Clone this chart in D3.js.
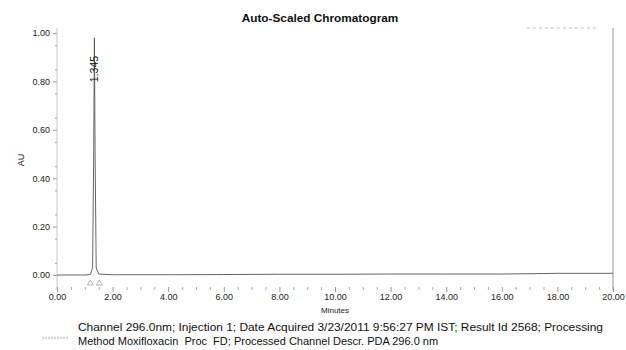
<!DOCTYPE html>
<html><head><meta charset="utf-8">
<script src="https://cdn.jsdelivr.net/npm/d3@7"></script>
<style>body{margin:0;background:#fff}svg{display:block;font-family:"Liberation Sans",Arial,sans-serif}</style>
</head><body>
<svg id="c" width="626" height="350"></svg>
<script>
const title = "Auto-Scaled Chromatogram";
const xLabel = "Minutes";
const yLabel = "AU";
const xTicks = [0,2,4,6,8,10,12,14,16,18,20];
const yTicks = [0,0.2,0.4,0.6,0.8,1.0];
const times = [0,1.0,1.2,1.28,1.32,1.345,1.37,1.41,1.5,2,4,6,8,10,12,14,16,17.5,18,20];
const au    = [0,0,0.002,0.03,0.5,0.98,0.5,0.03,0.004,0.001,0.001,0.002,0.003,0.003,0.004,0.004,0.004,0.006,0.007,0.007];
const peakLabels = [{t:1.345, text:"1.345"}];
const markerTimes = [1.2,1.52];
const footer = ["Channel 296.0nm; Injection 1; Date Acquired 3/23/2011 9:56:27 PM IST; Result Id 2568; Processing",
                "Method Moxifloxacin  Proc  FD; Processed Channel Descr. PDA 296.0 nm"];

const svg = d3.select("#c");
const x = d3.scaleLinear().domain([0,20]).range([57,613]);
const y = d3.scaleLinear().domain([0,1]).range([275,33]);

svg.append("text").attr("x",320).attr("y",22).attr("text-anchor","middle")
  .attr("font-weight","bold").attr("font-size",11.8).attr("fill","#111").text(title);

// y axis
const yAxis = d3.axisLeft(y).tickValues(yTicks).tickFormat(d3.format(".2f")).tickSize(4).tickSizeOuter(0);
const gy = svg.append("g").attr("transform","translate(57,0)").call(yAxis);
gy.select(".domain").remove();
gy.selectAll("line").attr("stroke","#999");
gy.selectAll("text").attr("font-size",9).attr("fill","#222").attr("font-family","Liberation Sans, Arial, sans-serif");
svg.append("line").attr("x1",57).attr("x2",57).attr("y1",28).attr("y2",290).attr("stroke","#c8c8c8");
const gym = svg.append("g").attr("transform","translate(57,0)")
  .call(d3.axisLeft(y).tickValues(d3.range(0.05,1.0,0.1)).tickFormat("").tickSize(2).tickSizeOuter(0));
gym.select(".domain").remove(); gym.selectAll("line").attr("stroke","#aaa");
svg.append("text").attr("transform","translate(24,160) rotate(-90)").attr("text-anchor","middle")
  .attr("font-size",9).attr("fill","#222").text(yLabel);

// right frame & top dotted
svg.append("line").attr("x1",613).attr("x2",613).attr("y1",28).attr("y2",290).attr("stroke","#999");
svg.append("line").attr("x1",x(16.9)).attr("x2",x(19.4)).attr("y1",28).attr("y2",28)
  .attr("stroke","#bbb").attr("stroke-dasharray","3,3");

// x axis
const xAxis = d3.axisBottom(x).tickValues(xTicks).tickFormat(d3.format(".2f")).tickSize(5).tickSizeOuter(0);
const gx = svg.append("g").attr("transform","translate(0,287)").call(xAxis);
gx.select(".domain").remove();
gx.selectAll("line").attr("stroke","#999");
gx.selectAll("text").attr("font-size",9).attr("fill","#222").attr("dy","0.5em").attr("font-family","Liberation Sans, Arial, sans-serif");
const gxm = svg.append("g").attr("transform","translate(0,287)")
  .call(d3.axisBottom(x).tickValues(d3.range(0.5,20,0.5).filter(v=>v%2!==0)).tickFormat("").tickSize(3).tickSizeOuter(0));
gxm.select(".domain").remove(); gxm.selectAll("line").attr("stroke","#aaa");
svg.append("text").attr("x",x(10)).attr("y",313).attr("text-anchor","middle")
  .attr("font-size",8).attr("fill","#222").text(xLabel);

// trace
const line = d3.line().x((d,i)=>x(times[i])).y(d=>y(d));
svg.append("path").datum(au).attr("d",line).attr("fill","none").attr("stroke","#555").attr("stroke-width",0.9);

// markers
svg.selectAll(".mk").data(markerTimes).enter().append("path")
  .attr("d",d=>`M${x(d)-3},285 L${x(d)},280 L${x(d)+3},285 Z`).attr("fill","none").attr("stroke","#999").attr("stroke-width",0.7);

// peak label
svg.selectAll(".pl").data(peakLabels).enter().append("text")
  .attr("transform",d=>`translate(${x(d.t)+3.5},69) rotate(-90)`).attr("text-anchor","middle")
  .attr("font-size",10.5).attr("fill","#111").text(d=>d.text);

// footer
svg.append("line").attr("x1",42).attr("x2",68).attr("y1",338).attr("y2",338).attr("stroke","#aaa").attr("stroke-dasharray","2,1");
svg.append("text").attr("x",78).attr("y",331).attr("font-size",11).attr("fill","#111")
  .attr("textLength",525).attr("lengthAdjust","spacingAndGlyphs").text(footer[0]);
svg.append("text").attr("x",78).attr("y",345).attr("font-size",11).attr("fill","#111")
  .style("white-space","pre").attr("xml:space","preserve").text(footer[1]);
</script>
</body></html>
